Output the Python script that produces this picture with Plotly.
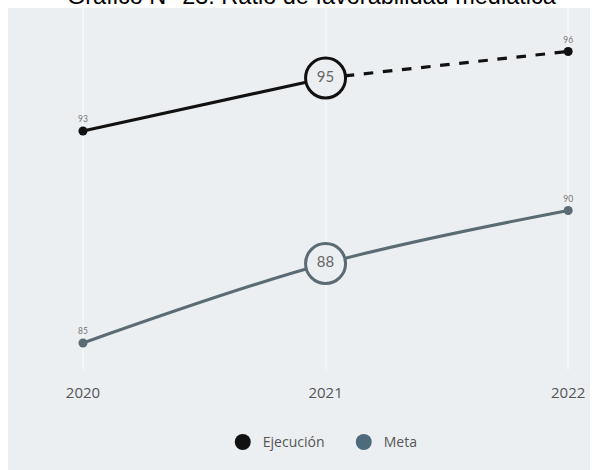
import plotly.graph_objects as go

years = [2020, 2021, 2022]
ejecucion = [93, 95, 96]
meta = [85, 88, 90]
tick_labels = ["2020", "2021", "2022"]
title_text = "Gráfico N° 23: Ratio de favorabilidad mediática"

BG = "#ECEFF2"
C_EJ = "#111111"
C_META = "#5B6B73"
C_META_LEG = "#4E6B7B"

fig = go.Figure()

# Ejecución: solid 2020-2021, dashed 2021-2022
fig.add_trace(go.Scatter(x=years[:2], y=ejecucion[:2], mode="lines",
                         line=dict(color=C_EJ, width=3.2), showlegend=False, hoverinfo="skip"))
fig.add_trace(go.Scatter(x=years[1:], y=ejecucion[1:], mode="lines",
                         line=dict(color=C_EJ, width=3.2, dash="dash"), showlegend=False, hoverinfo="skip"))
# Meta line
fig.add_trace(go.Scatter(x=years, y=meta, mode="lines", line=dict(color=C_META, width=3, shape="spline"),
                         showlegend=False, hoverinfo="skip"))

# small end markers + labels
for vals, col in ((ejecucion, C_EJ), (meta, C_META)):
    xs = [years[0], years[2]]
    ys = [vals[0], vals[2]]
    fig.add_trace(go.Scatter(x=xs, y=ys, mode="markers+text", text=[str(v) for v in ys],
                             textposition="top center",
                             textfont=dict(size=8.5, color="#777777", family="Lato"),
                             marker=dict(size=9, color=col), showlegend=False))

# big circles at 2021
for vals, col in ((ejecucion, C_EJ), (meta, C_META)):
    fig.add_trace(go.Scatter(x=[years[1]], y=[vals[1]], mode="markers+text", text=[str(vals[1])],
                             textposition="middle center",
                             textfont=dict(size=15, color="#666666", family="Lato"),
                             marker=dict(size=40, color=BG, line=dict(color=col, width=3)),
                             showlegend=False))

# legend entries
fig.add_trace(go.Scatter(x=[None], y=[None], mode="markers", name="Ejecución",
                         marker=dict(size=16, color=C_EJ)))
fig.add_trace(go.Scatter(x=[None], y=[None], mode="markers", name="Meta",
                         marker=dict(size=16, color=C_META_LEG)))

# grey panel behind the chart
fig.add_shape(type="rect", xref="paper", yref="paper", x0=0, x1=1, y0=-0.2762, y1=1,
              fillcolor=BG, line=dict(width=0), layer="below")

fig.add_annotation(text=title_text, xref="paper", yref="paper", x=0.522, y=1.0,
                   xanchor="center", yanchor="bottom", yshift=-3, showarrow=False,
                   font=dict(size=23.5, color="#000000", family="Liberation Sans"))

fig.update_layout(
    width=599, height=470,
    margin=dict(l=8, r=9, t=8, b=100),
    paper_bgcolor="white", plot_bgcolor=BG,
    hovermode=False,
    xaxis=dict(range=[2019.691, 2022.09], tickvals=years, ticktext=tick_labels,
               showgrid=True, gridcolor="#F3F5F7", gridwidth=1.5, zeroline=False,
               showline=False, ticks="", ticklabelstandoff=12,
               tickfont=dict(size=15, color="#555555", family="Open Sans")),
    yaxis=dict(range=[83.98, 97.64], showgrid=False, zeroline=False, showticklabels=False,
               showline=False),
    legend=dict(orientation="h", x=0.369, xanchor="left", y=-0.2, yanchor="middle",
                entrywidth=76,
                font=dict(size=14, color="#555555", family="Open Sans"), bgcolor="rgba(0,0,0,0)"),
    showlegend=True,
)

fig.write_html("out.html", config={"displayModeBar": False},
               post_script="document.body.style.margin='0px';")
